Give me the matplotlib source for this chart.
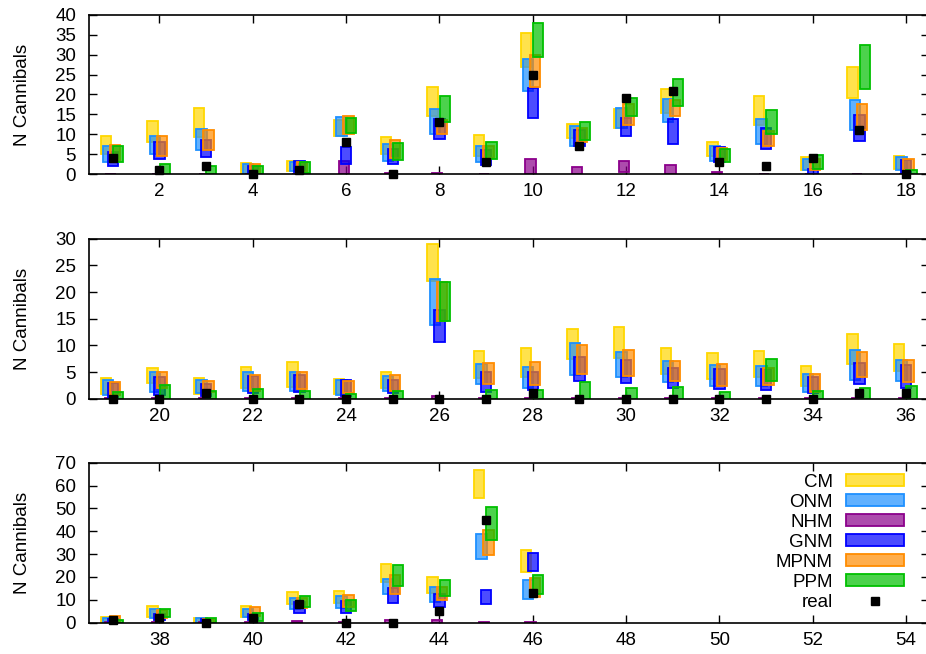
import numpy as np
import matplotlib
matplotlib.use("Agg")
import matplotlib.pyplot as plt
from matplotlib.patches import Patch
from matplotlib.lines import Line2D
from matplotlib.colors import to_rgba

plt.rcParams['font.family'] = ['Liberation Sans', 'DejaVu Sans']

# ---------------- data ----------------
cases = list(range(1, 47))

models = ["CM", "ONM", "NHM", "GNM", "MPNM", "PPM"]

cm_low = [5, 8, 9.3, 0, 0.8, 9.5, 5, 14.5, 4.5, 27, 9, 11.5, 15.3, 4.5, 12.3, 1, 19, 1.3,
          0.8, 3, 0.8, 2, 2.2, 0.8, 2, 22, 3.8, 4, 7.5, 7.6, 4.6, 3.7, 4.1, 2.4, 6.6, 5.2,
          0, 2.6, 0, 2.6, 8, 8.5, 17.6, 12.8, 54.5, 22]
cm_high = [9.5, 13.3, 16.5, 2.8, 3.4, 13.5, 9.3, 22, 9.9, 35.5, 12.6, 16.3, 21.5, 8, 19.5, 4.3, 26.8, 4.6,
           3.8, 5.8, 3.8, 5.9, 6.8, 3.7, 5.1, 29, 9, 9.5, 13.1, 13.4, 9.5, 8.6, 8.9, 6.1, 12.1, 10.3,
           2.7, 7.1, 2, 7.1, 13.4, 13.7, 25.8, 20, 66.7, 31.6]

onm_low = [3, 5, 6, 0, 0.8, 9.5, 3.3, 10, 3.2, 21, 7, 11.5, 13, 3.3, 7.7, 1.2, 11.2, 1.2,
           0.7, 1.2, 1, 1.5, 1.5, 0.7, 1.5, 13.8, 2.8, 2.1, 4.5, 4, 3.1, 2.4, 2.3, 1.3, 3.5, 3.4,
           0, 2, 0, 2.3, 5.9, 6.3, 12.4, 9.2, 27.8, 10.4]
onm_high = [7, 9.7, 11.3, 2.5, 3.2, 14.3, 7.7, 16.4, 7.2, 28.8, 12.2, 16.5, 18.8, 7, 13.8, 3.9, 18.5, 4.3,
            3.6, 5, 3.6, 5, 5, 3.6, 4.3, 22.5, 6.5, 5.9, 10.5, 8.8, 7.1, 6.3, 6.2, 4.7, 9.1, 7.3,
            2.2, 6.2, 1.9, 6.2, 10.8, 11.6, 19.3, 15.6, 39, 18.8]

nhm_low = [0, 0, 0, 0, 0, 0, 0, 0, 0, 0, 0, 0.5, 0, 0, 0, 0, 0, 0,
           0, 0, 0, 0, 0, 0, 0, 0, 0, 0, 0, 0, 0, 0, 0, 0, 0, 0,
           0, 0, 0, 0, 0, 0, 0, 0, 0, 0]
nhm_high = [0.2, 0.2, 0.2, 0.1, 0.2, 3.3, 0.3, 0.3, 0.2, 3.8, 1.8, 3.4, 2.3, 0.6, 0.2, 0.1, 0.2, 0.1,
            0.1, 0.1, 0.1, 0.1, 0.1, 0.1, 0.1, 0.6, 0.1, 0.1, 0.1, 0.1, 0.1, 0.1, 0.1, 0.1, 0.1, 0.1,
            0.2, 0.2, 0.2, 0.2, 0.6, 0.3, 1.1, 1.1, 0.3, 0.3]

gnm_low = [2.2, 3.8, 4.3, 0, 0.6, 2.5, 2.7, 8.8, 2.3, 14, 7, 9.5, 7.7, 3, 6.3, 0, 8.3, 0.2,
           0.2, 0.7, 0.5, 1, 1.2, 0.5, 1.1, 10.6, 1.3, 1.6, 3.3, 2.9, 2.1, 1.8, 1.6, 1.1, 2.8, 2.1,
           0, 1, 0, 1, 4.2, 4.2, 8.5, 6.7, 8.2, 22.8]
gnm_high = [5.5, 8, 8.6, 2, 3.3, 6.8, 6.4, 13.8, 6.2, 21.7, 11.2, 14.2, 13.9, 6.8, 11.6, 1.4, 14.8, 3.7,
            3, 4, 2.8, 4.2, 4.5, 3.5, 3.6, 16.7, 5, 5, 7.8, 7.3, 5.8, 5.5, 5.6, 4, 6.7, 6.3,
            1.8, 4, 1.5, 4, 9, 9.3, 15.2, 12.7, 14.5, 30.5]

mpnm_low = [3.5, 4.6, 6, 0, 0.6, 10, 4, 10, 4, 22, 8, 12.3, 14.5, 3.5, 7, 1, 11, 1.2,
            0.7, 2.1, 1.3, 1.5, 1.8, 1, 1.5, 14.5, 2.8, 2.5, 4.6, 4.3, 3.3, 2.4, 2.5, 1.3, 4.1, 3.2,
            0, 2, 0, 2.9, 6.5, 7, 12.5, 10, 29.6, 11.4]
mpnm_high = [7.3, 9.7, 11, 2.5, 3, 14.7, 8.6, 13.5, 7, 29.8, 11.5, 17.5, 18.5, 6.5, 10.8, 3.8, 17.7, 3.9,
             3.2, 5.1, 3.3, 4.5, 5.1, 3.4, 4.4, 21.8, 6.7, 6.8, 10, 9.2, 7.1, 6.5, 5.8, 4.6, 8.8, 7.3,
             2.8, 5.5, 1.6, 6.8, 11, 12.2, 20.7, 15.6, 40.4, 19.5]

ppm_low = [3, 0, 0, 0, 0.3, 10.3, 3.5, 13, 3.8, 29.3, 8.5, 14.5, 17.2, 3, 10, 1.3, 21.3, 0,
           0, 0, 0, 0, 0, 0, 0, 14.5, 0, 0, 0, 0, 0, 0, 3.3, 0, 0, 0,
           0, 2.6, 0, 0.7, 6.7, 5.1, 16, 11.8, 36, 12.4]
ppm_high = [7, 2.5, 2, 2, 3, 14.2, 7.9, 19.5, 8, 38, 13.2, 19.2, 23.9, 6.3, 16, 4.9, 32.5, 1,
            1.3, 2.6, 1.4, 1.8, 1.5, 0.9, 1.4, 21.8, 1.7, 1.7, 3.1, 2, 2.2, 1.3, 7.5, 1.4, 2, 2.3,
            1.4, 6.2, 2, 4.4, 11.6, 10, 25.3, 18.8, 50.8, 21]

real = [4, 1, 2, 0, 1, 8, 0, 13, 3, 25, 7, 19, 21, 3, 2, 4, 11, 0,
        0, 0, 1, 0, 0, 0, 0, 0, 0, 1, 0, 0, 0, 0, 0, 0, 1, 1,
        1, 2, 0, 2, 8, 0, 0, 5, 45, 13]

panel_ymax = [40, 30, 70]
panel_ystep = [5, 5, 10]

# ---------------- style ----------------
colors = ["#FFD700", "#1E90FF", "#8B008B", "#0000FF", "#FF8C00", "#00C000"]
offsets = [-0.145, -0.095, -0.045, 0.005, 0.055, 0.115]
bar_w = 0.22
lows = [cm_low, onm_low, nhm_low, gnm_low, mpnm_low, ppm_low]
highs = [cm_high, onm_high, nhm_high, gnm_high, mpnm_high, ppm_high]

W, H = 926, 654
fig = plt.figure(figsize=(W / 100, H / 100), dpi=100)

left_px, right_px = 89.3, 929.4
panel_px = [(14.7, 174.3), (238.7, 398.7), (462.7, 622.7)]

x_arr = np.array(cases)
fs = 13.5

for p in range(3):
    top, bot = panel_px[p]
    ax = fig.add_axes([left_px / W, 1 - bot / H, (right_px - left_px) / W, (bot - top) / H])
    x0 = 18 * p + 0.5
    x1 = x0 + 18
    sel = (x_arr > x0) & (x_arr < x1)
    for m in range(6):
        lo = np.array(lows[m])[sel]
        hi = np.array(highs[m])[sel]
        ax.bar(x_arr[sel] + offsets[m], hi - lo, bottom=lo, width=bar_w,
               facecolor=to_rgba(colors[m], 0.7), edgecolor=colors[m],
               linewidth=1.3, zorder=2 + m * 0.1)
    ax.plot(x_arr[sel], np.array(real)[sel], ls='none', marker='s', ms=6.2,
            color='black', zorder=5, clip_on=False)
    ax.set_xlim(x0, x1)
    ax.set_ylim(0, panel_ymax[p])
    ax.set_xticks(np.arange(18 * p + 2, 18 * p + 19, 2))
    ax.set_yticks(np.arange(0, panel_ymax[p] + 0.1, panel_ystep[p]))
    ax.tick_params(direction='in', length=6, width=1, top=True, right=True,
                   labelsize=fs)
    ax.tick_params(axis='x', pad=6.5)
    ax.tick_params(axis='y', pad=9.5)
    for s in ax.spines.values():
        s.set_linewidth(1.2)
    ax.set_ylabel("N Cannibals", fontsize=fs)
    ax.yaxis.set_label_coords(-0.069, 0.5)

    if p == 2:
        handles = [Patch(facecolor=to_rgba(c, 0.7), edgecolor=c, linewidth=1.3) for c in colors]
        handles.append(Line2D([], [], ls='none', marker='s', ms=6.2, color='black'))
        ax.legend(handles, models + ["real"], loc='upper right', bbox_to_anchor=(0.97, 0.93),
                  frameon=False, markerfirst=False, fontsize=fs, handlelength=3.1,
                  handleheight=0.6, labelspacing=0.16, handletextpad=0.7, borderpad=0,
                  borderaxespad=0)

fig.savefig("out.png", dpi=100)
